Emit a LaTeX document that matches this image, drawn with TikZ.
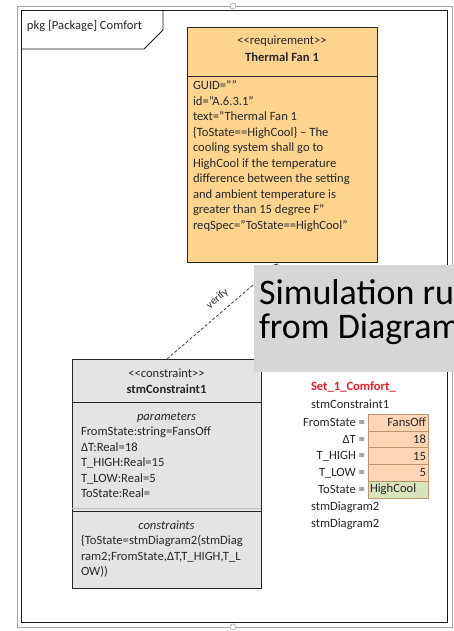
\documentclass[tikz,border=0pt]{standalone}
\usepackage{fontspec}
\setmainfont{Carlito}
\usetikzlibrary{arrows.meta}
\definecolor{reqfill}{RGB}{252,212,142}
\definecolor{confill}{RGB}{228,228,228}
\definecolor{ovfill}{RGB}{214,214,214}
\definecolor{cellfill}{RGB}{252,213,180}
\definecolor{cellgreen}{RGB}{216,228,188}
\definecolor{celldraw}{RGB}{190,150,110}
\definecolor{txt}{RGB}{40,40,40}
\definecolor{setred}{RGB}{240,30,40}
\tikzset{
  every node/.style={inner sep=0pt, outer sep=0pt, text=txt, font=\fontsize{12.6}{15.5}\selectfont},
  umlbox/.style={draw=black!85, line width=0.9pt, anchor=north west},
  txtblock/.style={anchor=north west, align=left},
  celle/.style={draw=celldraw, fill=cellfill, line width=0.6pt, minimum width=60, minimum height=16.8, anchor=north west},
  lbl/.style={anchor=east},
  val/.style={anchor=east},
  bigtxt/.style={anchor=base west, text=black, font=\fontsize{36}{34}\selectfont},
}
\begin{document}
\begin{tikzpicture}[x=1pt,y=-1pt]
\useasboundingbox (0,0) rectangle (454,631);
\fill[white] (0,0) rectangle (454,631);
% frames
\draw[black!35, line width=0.8pt] (17,6) rectangle (452,627);
\draw[black!90, line width=1pt] (21,11) rectangle (447,622);
\draw[black!35, fill=white, line width=0.6pt] (233,6) circle (3);
\draw[black!35, fill=white, line width=0.6pt] (233,627) circle (3);
% package tab
\draw[black!90, line width=0.9pt] (21,49) -- (144,49) -- (163,30) -- (163,11);
\node[anchor=west] (pkg) at (27,26) {pkg [Package] Comfort};
% requirement
\node[umlbox, fill=reqfill, minimum width=190, minimum height=235] (req) at (187,27) {};
\draw[black!85, line width=0.9pt] (187,76) -- (377,76);
\node (reqst) at (282,41) {<{}<requirement>{}>};
\node[font=\fontsize{12.6}{15.5}\selectfont\bfseries] (reqname) at (282,57.5) {Thermal Fan 1};
\node[txtblock] (reqbody) at (193,81) {GUID=""\\
id="A.6.3.1"\\
text="Thermal Fan 1\\
\{ToState==HighCool\} -- The\\
cooling system shall go to\\
HighCool if the temperature\\
difference between the setting\\
and ambient temperature is\\
greater than 15 degree F"\\
reqSpec="ToState==HighCool"};
% constraint
\node[umlbox, fill=confill, minimum width=189, minimum height=229] (con) at (72,359) {};
\draw[black!85, line width=0.9pt] (72,402) -- (261,402);
\draw[black!25, line width=0.6pt] (72,508.5) -- (261,508.5);
\draw[black!85, line width=1pt] (72,511.5) -- (261,511.5);
\node (const) at (166.5,373) {<{}<constraint>{}>};
\node[font=\fontsize{12.6}{15.5}\selectfont\bfseries] (conname) at (166.5,389.5) {stmConstraint1};
\node[font=\fontsize{12.6}{15.5}\selectfont\itshape] (parhead) at (166.5,417.5) {parameters};
\node[txtblock] (params) at (81,427) {FromState:string=FansOff\\
ΔT:Real=18\\
T\_HIGH:Real=15\\
T\_LOW:Real=5\\
ToState:Real=};
\node[font=\fontsize{12.6}{15.5}\selectfont\itshape] (conhead) at (166.5,525.5) {constraints};
\node[txtblock] (cons) at (81,535.5) {\{ToState=stmDiagram2(stmDiag\\
ram2;FromState,ΔT,T\_HIGH,T\_L\\
OW))};
% verify dependency
\coordinate (vA) at (167,359);
\coordinate (vB) at (278,263.5);
\draw[black!75, dashed, dash pattern=on 3pt off 2pt, line width=0.8pt, -{Stealth[length=4pt,width=4pt]}] (vA) -- (vB)
  node[pos=0.53, above=8pt, sloped, font=\fontsize{11}{13}\selectfont] (verify) {verify};
% right panel
\node[anchor=west, text=setred, font=\fontsize{12.6}{15.5}\selectfont\bfseries] (set) at (311,387) {Set\_1\_Comfort\_};
\node[anchor=west] (sc1) at (311,404) {stmConstraint1};
\node[celle] (c1) at (368,414) {};
\node[celle] (c2) at (368,430.8) {};
\node[celle] (c3) at (368,447.6) {};
\node[celle] (c4) at (368,464.4) {};
\node[celle, fill=cellgreen] (c5) at (368,481.2) {};
\node[lbl] (l1) at (365,422.4) {FromState =};
\node[lbl] (l2) at (365,439.2) {ΔT =};
\node[lbl] (l3) at (365,456) {T\_HIGH =};
\node[lbl] (l4) at (365,472.8) {T\_LOW =};
\node[lbl] (l5) at (365,489.6) {ToState =};
\node[val] (v1) at (426,422.4) {FansOff};
\node[val] (v2) at (426,439.2) {18};
\node[val] (v3) at (426,456) {15};
\node[val] (v4) at (426,472.8) {5};
\node[anchor=west] (v5) at (370,489.6) {HighCool};
\node[anchor=west] (sd1) at (311,507) {stmDiagram2};
\node[anchor=west] (sd2) at (311,524) {stmDiagram2};
% overlay
\fill[ovfill] (254,265) rectangle (454,372);
\begin{scope}
\clip (254,265) rectangle (454,372);
\node[bigtxt] (sim1) at (259,304) {Simulation ru};
\node[bigtxt] (sim2) at (259,338) {from Diagram};
\end{scope}
\end{tikzpicture}
\end{document}
